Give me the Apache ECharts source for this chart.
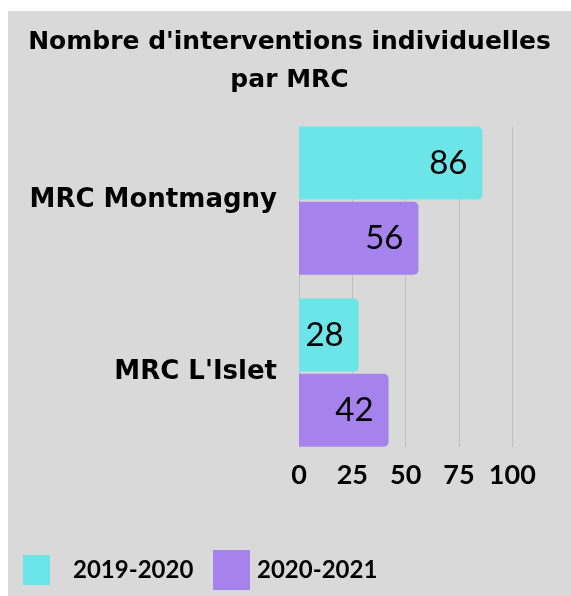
<!DOCTYPE html>
<html>
<head>
<meta charset="utf-8">
<script src="https://cdn.jsdelivr.net/npm/echarts@6/dist/echarts.min.js"></script>
<style>
  html, body { margin: 0; padding: 0; background: #ffffff; }
  #main { position: absolute; left: 8px; top: 11px; width: 563px; height: 585px; }
</style>
</head>
<body>
<div id="main"></div>
<script>
// data
var categories = ['MRC Montmagny', "MRC L'Islet"];
var seriesNames = ['2019-2020', '2020-2021'];
var values2019 = [86, 28];
var values2020 = [56, 42];
var xMin = 0, xMax = 100, xStep = 25;

var myChart = echarts.init(document.getElementById('main'));
var fontFam = 'Lato';
var wideFont = 'DejaVu Sans';

var option = {
    backgroundColor: '#d9d9d9',
    textStyle: { fontFamily: fontFam, color: '#000' },
    color: ['#6ce5e8', '#a682ec'],
    title: {
        text: "Nombre d'interventions individuelles\npar MRC",
        left: 'center',
        top: 12,
        padding: 0,
        textStyle: {
            fontFamily: wideFont,
            fontSize: 25,
            fontWeight: 'bold',
            lineHeight: 38,
            color: '#000'
        }
    },
    legend: [
        {
            data: [seriesNames[0]],
            left: 15,
            top: 544,
            padding: 0,
            itemWidth: 27,
            itemHeight: 30,
            icon: 'rect',
            textStyle: { fontSize: 24, fontWeight: 'bold', color: '#000', padding: [0, 0, 0, 18] }
        },
        {
            data: [seriesNames[1]],
            left: 205,
            top: 539,
            padding: 0,
            itemWidth: 37,
            itemHeight: 40,
            icon: 'rect',
            textStyle: { fontSize: 24, fontWeight: 'bold', color: '#000', padding: [0, 0, 0, 2] }
        }
    ],
    grid: [
        // bars
        { left: 291, width: 213.3, top: 103.7, height: 344 },
        // gridlines + tick labels
        { left: 291, width: 213.3, top: 116, height: 320 }
    ],
    xAxis: [
        { gridIndex: 0, type: 'value', min: xMin, max: xMax, interval: xStep, show: false },
        {
            gridIndex: 1, type: 'value', min: xMin, max: xMax, interval: xStep,
            axisLine: { show: false },
            axisTick: { show: false },
            splitLine: { show: true, lineStyle: { color: '#bfbfbf', width: 1 } },
            axisLabel: { fontSize: 27, fontWeight: 'bold', color: '#000', margin: 15 }
        }
    ],
    yAxis: [
        {
            gridIndex: 0, type: 'category', data: categories, inverse: true,
            axisLine: { show: false },
            axisTick: { show: false },
            axisLabel: { fontFamily: wideFont, fontSize: 26, fontWeight: 'bold', color: '#000', margin: 22 }
        },
        { gridIndex: 1, type: 'value', min: 0, max: 1, show: false }
    ],
    series: [
        {
            name: seriesNames[0],
            type: 'bar',
            data: values2019,
            barWidth: 73,
            barGap: '3%',
            itemStyle: { borderRadius: [0, 5, 5, 0] },
            label: { show: true, position: 'insideRight', distance: 15, fontSize: 33, color: '#000' }
        },
        {
            name: seriesNames[1],
            type: 'bar',
            data: values2020,
            barWidth: 73,
            barGap: '3%',
            itemStyle: { borderRadius: [0, 5, 5, 0] },
            label: { show: true, position: 'insideRight', distance: 15, fontSize: 33, color: '#000' }
        }
    ]
};

myChart.setOption(option);
</script>
</body>
</html>
